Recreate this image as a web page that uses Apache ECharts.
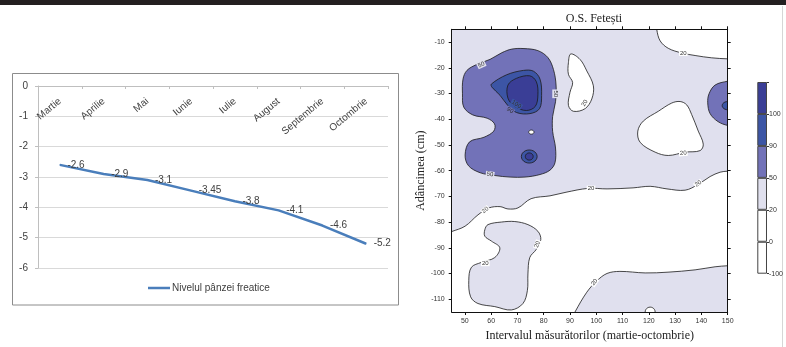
<!DOCTYPE html>
<html><head><meta charset="utf-8">
<script src="https://cdn.jsdelivr.net/npm/echarts@6/dist/echarts.min.js"></script>
<style>html,body{margin:0;padding:0;background:#fff}#c{width:786px;height:347px}</style>
</head><body><div id="c"></div>
<script>
// ---------- Left chart data ----------
const months = ['Martie','Aprilie','Mai','Iunie','Iulie','August','Septembrie','Octombrie'];
const waterLevel = [-2.6,-2.9,-3.1,-3.45,-3.8,-4.1,-4.6,-5.2];
const seriesName = 'Nivelul pânzei freatice';

// ---------- Right chart (contour) data ----------
const contourXTicks = [50,60,70,80,90,100,110,120,130,140,150];
const contourYTicks = [-10,-20,-30,-40,-50,-60,-70,-80,-90,-100,-110];
const colorbarLabels = ['-100','0','20','50','90','100'];
const bandColors = ['#ffffff','#ffffff','#e0e0ee','#7272b8','#3c55a5','#3a3e96'];

// contour regions: [x (measurement), depth (cm)] ; band = index into bandColors
const whiteTopRight = [[122.8,-1],[123,-5],[124.3,-9.5],[127.4,-12.4],[132.5,-14.2],[137.6,-15.2],[143.9,-16.1],[150,-16.5],[154,-16.6],[154,-1]];
const whiteTopMid = [[90.3,-14.6],[93.8,-16.7],[96.4,-21.2],[98.9,-27.0],[98.3,-32.1],[95.7,-35.9],[91.3,-36.9],[89.4,-34.6],[90.0,-29.5],[91.0,-25.7],[89.4,-22.5],[89.4,-18.0]];
const whiteMidRight = [[131.9,-33.1],[134.4,-34.4],[136.3,-38.2],[138.8,-44.6],[140.7,-49.7],[139.5,-52.2],[133.8,-52.8],[127.4,-54.1],[122.4,-52.8],[116.7,-49.0],[115.8,-44.6],[117.9,-40.7],[123.6,-36.9],[128.7,-33.7]];
const whiteBottom = [[41,-85.2],[45,-83.7],[50.1,-81.6],[55,-77.2],[59.2,-74.5],[63.4,-74.0],[66.4,-74.9],[70.2,-74.5],[75.2,-70.9],[82.4,-69.8],[88.5,-68.4],[96.9,-66.9],[104.1,-67.1],[114,-66.7],[120.5,-66.1],[126.9,-67.1],[133.8,-67.6],[138.7,-65.4],[143.3,-62.3],[147.1,-60.6],[150,-60.2],[154,-60],[154,-96.8],[150,-97.0],[145.2,-97.4],[137.6,-98.6],[127.3,-99.5],[118.6,-99.8],[109,-99.2],[104.1,-100],[100.2,-102.9],[96.4,-107.3],[91.9,-115],[90,-119],[41,-119]];
const lavenderIsland = [[57.6,-83.0],[58.8,-81.0],[63.9,-80.0],[69.0,-79.8],[74.0,-81.0],[77.8,-83.6],[78.9,-86.8],[77.2,-90.6],[74.7,-93.8],[74.0,-100.2],[73.8,-106.6],[72.1,-111.7],[67.7,-114.2],[61.4,-112.9],[55.0,-111.7],[52.2,-109.1],[51.5,-102.7],[52.5,-97.6],[56.3,-95.7],[61.4,-93.8],[63.3,-90.0],[60.1,-87.4],[57.6,-85.5]];
const purpleLeft = [[54.5,-18.7],[59.6,-16.7],[64.1,-14.1],[67.9,-12.7],[72.5,-12.5],[77.8,-13.3],[81.6,-16.0],[83.7,-20.6],[84.7,-26.7],[84.5,-33.2],[83.4,-38.9],[83.4,-44.7],[84.5,-51.2],[84.3,-56.9],[82.4,-59.8],[78.6,-61.5],[72.9,-62.5],[67.2,-62.5],[61.5,-61.9],[55.8,-60.8],[51.4,-58.1],[50.1,-53.9],[51.8,-48.8],[57.3,-47.0],[61.0,-44.6],[61.3,-41.8],[58.5,-39.6],[53.0,-38.3],[49.6,-35.3],[49.1,-30.1],[49.3,-24.4],[50.8,-21.0]];
const blueLeft = [[60.1,-26.3],[65.9,-22.7],[72.3,-21.0],[76.1,-21.3],[78.6,-24.4],[79.2,-30.7],[78.4,-35.9],[74.8,-37.8],[69.7,-37.4],[66.4,-34.7],[63.4,-30.7],[60.3,-27.5]];
const darkLeft = [[66.4,-26.7],[69.6,-24.1],[74.7,-23.1],[77.2,-25.4],[77.8,-30.5],[76.8,-35.0],[73.4,-36.6],[69.0,-35.0],[66.4,-31.8]];
const purpleRight = [[154,-24.8],[150,-25.2],[145.2,-26.7],[142.9,-30.1],[142.4,-33.6],[143.3,-37.8],[146.3,-40.9],[150,-42.4],[154,-42.6]];
const contourRegions = [
  {pts: whiteTopRight, band: 1}, {pts: whiteTopMid, band: 1}, {pts: whiteMidRight, band: 1},
  {pts: whiteBottom, band: 1}, {pts: lavenderIsland, band: 2}, {pts: purpleLeft, band: 3},
  {pts: blueLeft, band: 4}, {pts: darkLeft, band: 5}, {pts: purpleRight, band: 3}
];
// small closed contours: [cx, cy, rx, ry, band]
const contourSpots = [
  [75.3,-45.0,1.0,0.8,1],
  [74.5,-54.5,3.0,2.55,4],
  [74.5,-54.5,1.5,1.4,5],
  [150,-34.7,2.1,1.6,4],
  [120.5,-115,1.9,1.9,1]
];
// contour labels: [x, depth, text]
const contourLabels = [
  [56.3,-18.8,'50'],[84.4,-30.1,'50'],[59.6,-61.4,'50'],[69.6,-34.2,'100'],[67.2,-36.5,'90'],
  [95.6,-33.7,'20'],[133.1,-14.2,'20'],[133.1,-53.2,'20'],[57.8,-75.3,'20'],[98.0,-67.0,'20'],
  [138.8,-65.1,'20'],[57.8,-96.0,'20'],[77.6,-88.7,'20'],[99.3,-103.4,'20']
];
const contourLabelAngles = [25,-90,-8,-32,-32,60,0,4,40,0,35,0,70,55];
const contourLabelBg = [2,2,2,4,3,1,1,1,1,1,1,1,1,1];

const chart = echarts.init(document.getElementById('c'), null, {renderer: 'canvas'});
const sans = 'Liberation Sans';
const serif = 'Liberation Serif';

const items = contourRegions.map((r, i) => ({kind: 'poly', r}))
  .concat(contourSpots.map(s => ({kind: 'spot', s})));

function clipOf(params) {
  const cs = params.coordSys;
  return {type: 'rect', shape: {x: cs.x, y: cs.y, width: cs.width, height: cs.height}};
}

const option = {
  animation: false,
  backgroundColor: '#ffffff',
  title: {
    text: 'O.S. Fetești', left: 589, top: 8, textAlign: 'center',
    textStyle: {fontFamily: serif, fontSize: 12, fontWeight: 'normal', color: '#222'}
  },
  legend: {
    left: 148, top: 283, padding: 0, itemWidth: 22, itemHeight: 2.5, itemGap: 10,
    data: [{name: seriesName, icon: 'rect'}],
    textStyle: {fontFamily: sans, fontSize: 10, color: '#404040', padding: [0,0,0,-3]}
  },
  grid: [
    {left: 38, top: 86, width: 350, height: 182, containLabel: false},
    {left: 451.7, top: 29.3, width: 276, height: 287.4, show: true, backgroundColor: '#e0e0ee', borderWidth: 0},
    {left: 757.3, top: 82, width: 12.4, height: 191.7}
  ],
  xAxis: [
    {gridIndex: 0, type: 'category', data: months, boundaryGap: true, position: 'top',
     axisLine: {onZero: false, lineStyle: {color: '#bfbfbf'}},
     axisTick: {show: true, inside: true, length: 3, lineStyle: {color: '#bfbfbf'}},
     axisLabel: {inside: true, rotate: -40, interval: 0, margin: 14, fontFamily: sans, fontSize: 10, color: '#404040'},
     splitLine: {show: false}},
    {gridIndex: 1, type: 'value', min: 45, max: 150, position: 'bottom', z: 10,
     axisLine: {onZero: false, lineStyle: {color: '#111', width: 1}},
     axisTick: {show: true, length: 3, customValues: contourXTicks, lineStyle: {color: '#111'}},
     axisLabel: {customValues: contourXTicks, margin: 6, fontFamily: sans, fontSize: 7, color: '#333'},
     splitLine: {show: false},
     name: 'Intervalul măsurătorilor (martie-octombrie)', nameLocation: 'middle', nameGap: 18,
     nameTextStyle: {fontFamily: serif, fontSize: 12, color: '#222'}},
    {gridIndex: 1, type: 'value', min: 45, max: 150, position: 'top', z: 10,
     axisLine: {onZero: false, lineStyle: {color: '#111', width: 1}},
     axisTick: {show: true, length: 3, customValues: contourXTicks, lineStyle: {color: '#111'}},
     axisLabel: {show: false}, splitLine: {show: false}},
    {gridIndex: 2, type: 'category', data: ['cb'], show: false}
  ],
  yAxis: [
    {gridIndex: 0, type: 'value', min: -6, max: 0, interval: 1,
     axisLine: {show: true, lineStyle: {color: '#bfbfbf'}},
     axisTick: {show: true, length: 3, lineStyle: {color: '#bfbfbf'}},
     axisLabel: {margin: 10, fontFamily: sans, fontSize: 10, color: '#404040'},
     splitLine: {lineStyle: {color: '#d9d9d9'}}},
    {gridIndex: 1, type: 'value', min: -115, max: -5, position: 'left', z: 10,
     axisLine: {show: true, onZero: false, lineStyle: {color: '#111', width: 1}},
     axisTick: {show: true, length: 3, customValues: contourYTicks, lineStyle: {color: '#111'}},
     axisLabel: {customValues: contourYTicks, margin: 7, fontFamily: sans, fontSize: 7, color: '#333'},
     splitLine: {show: false},
     name: 'Adâncimea (cm)', nameLocation: 'middle', nameGap: 21,
     nameTextStyle: {fontFamily: serif, fontSize: 12, color: '#222'}},
    {gridIndex: 1, type: 'value', min: -115, max: -5, position: 'right', z: 10,
     axisLine: {show: true, onZero: false, lineStyle: {color: '#111', width: 1}},
     axisTick: {show: true, length: 3, customValues: contourYTicks, lineStyle: {color: '#111'}},
     axisLabel: {show: false}, splitLine: {show: false}},
    {gridIndex: 2, type: 'value', min: 0, max: 6, interval: 1, position: 'right',
     axisLine: {show: false},
     axisTick: {show: true, length: 2, lineStyle: {color: '#333'}},
     axisLabel: {margin: 2, fontFamily: sans, fontSize: 7, color: '#333',
       formatter: v => (colorbarLabels[v] !== undefined ? colorbarLabels[v] : '')},
     splitLine: {show: false}}
  ],
  graphic: [
    {type: 'rect', shape: {x: 0, y: 0, width: 786, height: 5}, style: {fill: '#231f20'}, z: 100},
    {type: 'rect', shape: {x: 12.5, y: 73.5, width: 386, height: 231.5}, style: {fill: 'none', stroke: '#8c8c8c', lineWidth: 1}},
    {type: 'line', shape: {x1: 782.5, y1: 6, x2: 782.5, y2: 347}, style: {stroke: '#d6d6d6', lineWidth: 1}}
  ],
  series: [
    {type: 'line', name: seriesName, xAxisIndex: 0, yAxisIndex: 0, data: waterLevel,
     symbol: 'circle', symbolSize: 1, showSymbol: true,
     lineStyle: {color: '#4a7ebb', width: 2.5}, itemStyle: {color: '#4a7ebb'},
     label: {show: true, position: 'right', distance: 7, fontFamily: sans, fontSize: 10, color: '#404040'}},
    {type: 'custom', xAxisIndex: 1, yAxisIndex: 1, silent: true,
     encode: {x: 0, y: 1},
     data: items.map((it, i) => it.kind === 'poly' ? [it.r.pts[0][0], it.r.pts[0][1], i] : [it.s[0], it.s[1], i]),
     renderItem: function (params, api) {
       const it = items[params.dataIndex];
       let pts, band, smooth;
       if (it.kind === 'poly') {
         pts = it.r.pts.map(p => api.coord(p));
         band = it.r.band; smooth = 0.35;
       } else {
         const c = api.coord([it.s[0], it.s[1]]);
         const sz = api.size([it.s[2], it.s[3]]);
         pts = [];
         for (let k = 0; k < 24; k++) {
           const a = k / 24 * Math.PI * 2;
           pts.push([c[0] + sz[0] * Math.cos(a), c[1] + sz[1] * Math.sin(a)]);
         }
         band = it.s[4]; smooth = 0;
       }
       return {type: 'group', clipPath: clipOf(params), children: [
         {type: 'polygon', shape: {points: pts, smooth: smooth},
          style: {fill: bandColors[band], stroke: '#1a1a1a', lineWidth: 0.8}}
       ]};
     }},
    {type: 'custom', xAxisIndex: 1, yAxisIndex: 1, silent: true, z: 5,
     encode: {x: 0, y: 1},
     data: contourLabels.map((l, i) => [l[0], l[1], i]),
     renderItem: function (params, api) {
       const i = params.dataIndex;
       const p = api.coord([contourLabels[i][0], contourLabels[i][1]]);
       return {type: 'text', x: p[0], y: p[1], rotation: contourLabelAngles[i] * Math.PI / 180,
         style: {text: contourLabels[i][2], fill: '#333', fontFamily: sans, fontSize: 6,
           align: 'center', verticalAlign: 'middle',
           backgroundColor: bandColors[contourLabelBg[i]], padding: [0, 1]}};
     }}
  ].concat(bandColors.map((c, i) => ({
    type: 'bar', xAxisIndex: 3, yAxisIndex: 3, stack: 'cb', barWidth: '100%', silent: true,
    data: [1], itemStyle: {color: c, borderColor: '#444', borderWidth: 1}
  })))
};
chart.setOption(option);
</script>
</body></html>
